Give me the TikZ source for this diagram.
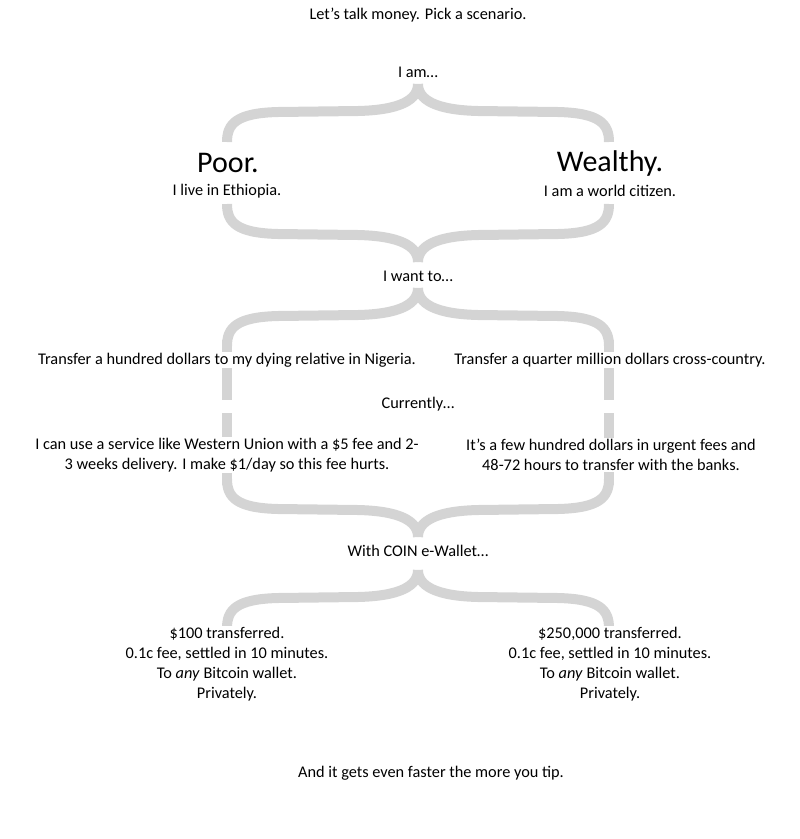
\documentclass[tikz,border=0pt]{standalone}
\usepackage{fontspec}
\setmainfont{Carlito}
\usetikzlibrary{positioning}
\definecolor{bargray}{RGB}{212,212,212}

\begin{document}
\begin{tikzpicture}[x=1pt, y=-1pt,
    bracebar/.style={draw=bargray, line width=10pt},
    txt/.style={font=\fontsize{16.3}{20}\selectfont, align=center, fill=white, inner sep=1pt},
    big/.style={font=\fontsize{30}{32}\selectfont, fill=white, inner sep=1pt},
    pics/halfbrace/.style={code={
        \draw[bracebar] (0,0) .. controls (0,16*#1) and (18,26*#1) .. (60,27*#1) -- (140,28*#1)
            .. controls (182,29*#1) and (191,40*#1) .. (191,58*#1);
    }},
    pics/curly/.style={code={\pic {halfbrace=#1}; \pic[xscale=-1] {halfbrace=#1};}}]

    \useasboundingbox (0,0) rectangle (800,839);

    % braces
    \pic at (418,84) {curly=1};
    \pic at (418,262) {curly=-1};
    \pic at (418,288) {curly=1};
    \pic at (418,537) {curly=-1};
    \pic at (418,570) {curly=1};

    \coordinate (l1) at (227,340);
    \coordinate (l2) at (227,400);
    \coordinate (l3) at (227,413);
    \coordinate (l4) at (227,485);
    \coordinate (r1) at (609,340);
    \coordinate (r2) at (609,400);
    \coordinate (r3) at (609,413);
    \coordinate (r4) at (609,485);
    \draw[bracebar] (l1) -- (l2) (l3) -- (l4);
    \draw[bracebar] (r1) -- (r2) (r3) -- (r4);

    % texts
    \node[txt] (title) at (418,15) {Let’s talk money. Pick a scenario.};
    \node[txt] (iam) at (418,72) {I am…};

    \node[big] (poor) at (228,163) {Poor.};
    \node[txt] (ethiopia) at (227,191) {I live in Ethiopia.};
    \node[big] (wealthy) at (610,163) {Wealthy.};
    \node[txt] (citizen) at (610,191) {I am a world citizen.};

    \node[txt] (wantto) at (418,276) {I want to…};

    \node[txt] (sendpoor) at (227,360) {Transfer a hundred dollars to my dying relative in Nigeria.};
    \node[txt] (sendrich) at (610,360) {Transfer a quarter million dollars cross-country.};

    \node[txt] (currently) at (418,404) {Currently…};

    \node[txt] (nowpoor) at (227,455) {I can use a service like Western Union with a \$5 fee and 2-\\3 weeks delivery. I make \$1/day so this fee hurts.};
    \node[txt] (nowrich) at (611,455) {It’s a few hundred dollars in urgent fees and\\48-72 hours to transfer with the banks.};

    \node[txt] (coin) at (418,551) {With COIN e-Wallet…};

    \node[txt] (coinpoor) at (227,664) {\$100 transferred.\\0.1c fee, settled in 10 minutes.\\To \textit{any} Bitcoin wallet.\\Privately.};
    \node[txt] (coinrich) at (610,664) {\$250,000 transferred.\\0.1c fee, settled in 10 minutes.\\To \textit{any} Bitcoin wallet.\\Privately.};

    \node[txt] (tip) at (431,773) {And it gets even faster the more you tip.};
\end{tikzpicture}
\end{document}
